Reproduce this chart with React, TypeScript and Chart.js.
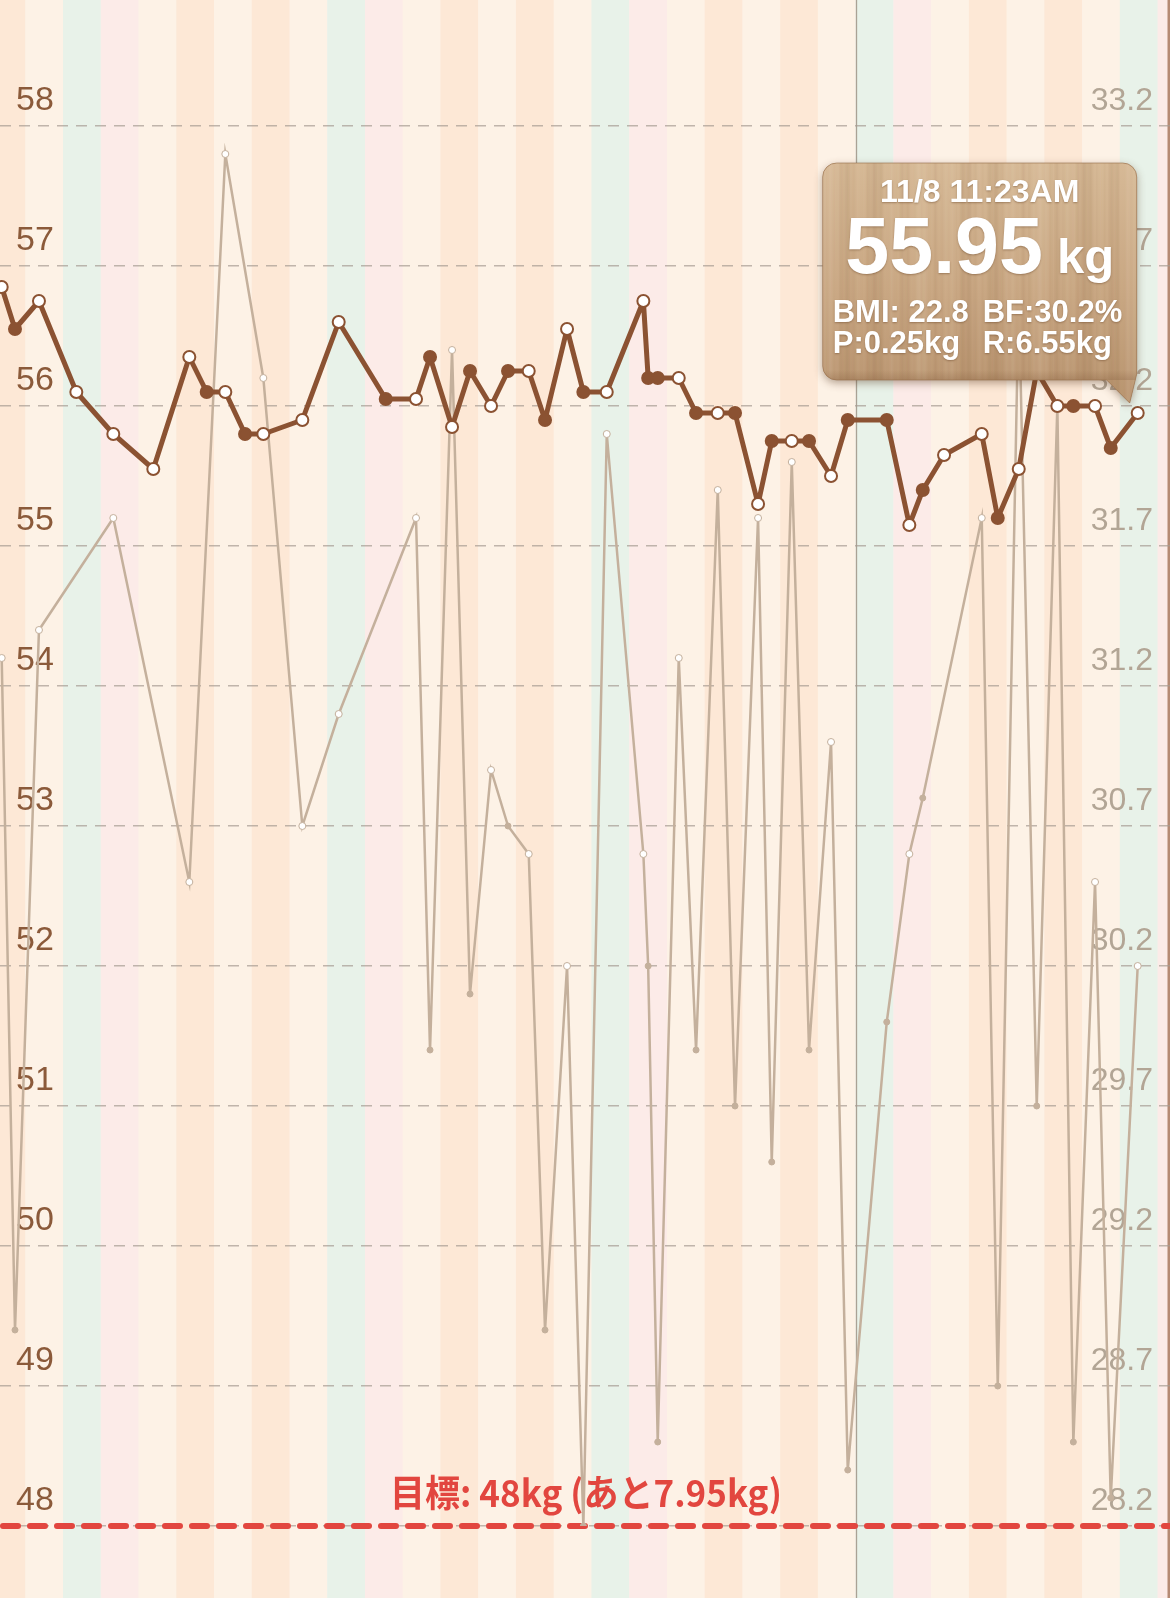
import React, { useEffect, useRef } from "react";
import { Chart, registerables } from "chart.js";

Chart.register(...registerables);

// ---------- data ----------
const YEAR = 2014;

const times = [
  "10/9 09:00", "10/9 17:27", "10/10 08:42", "10/11 08:27", "10/12 07:58",
  "10/13 09:24", "10/14 08:18", "10/14 19:21", "10/15 07:12", "10/15 19:44",
  "10/16 07:22", "10/17 08:10", "10/18 07:18", "10/19 13:12", "10/20 08:28",
  "10/20 17:22", "10/21 07:22", "10/21 18:48", "10/22 08:10", "10/22 18:58",
  "10/23 08:08", "10/23 18:30", "10/24 08:30", "10/24 18:52", "10/25 09:45",
  "10/26 09:02", "10/26 12:05", "10/26 18:10", "10/27 07:32", "10/27 18:32",
  "10/28 08:20", "10/28 19:19", "10/29 09:58", "10/29 18:40", "10/30 07:24",
  "10/30 18:23", "10/31 08:22", "10/31 19:00", "11/1 19:48", "11/2 10:10",
  "11/2 18:42", "11/3 08:14", "11/4 08:12", "11/4 18:23", "11/5 07:44",
  "11/5 19:10", "11/6 08:17", "11/6 18:27", "11/7 08:15", "11/7 18:14",
  "11/8 11:23",
];

const weights = [
  56.85, 56.55, 56.75, 56.1, 55.8,
  55.55, 56.35, 56.1, 56.1, 55.8,
  55.8, 55.9, 56.6, 56.05, 56.05,
  56.35, 55.85, 56.25, 56.0, 56.25,
  56.25, 55.9, 56.55, 56.1, 56.1,
  56.75, 56.2, 56.2, 56.2, 55.95,
  55.95, 55.95, 55.3, 55.75, 55.75,
  55.75, 55.5, 55.9, 55.9, 55.15,
  55.4, 55.65, 55.8, 55.2, 55.55,
  56.25, 56.0, 56.0, 56.0, 55.7,
  55.95,
];

const bodyFat: (number | null)[] = [
  31.3, 28.9, 31.4, null, 31.8,
  null, 30.5, null, 33.1, null,
  32.3, 30.7, 31.1, null, 31.8,
  29.9, 32.4, 30.1, 30.9, 30.7,
  30.6, 28.9, 30.2, 28.2, 32.1,
  30.6, 30.2, 28.5, 31.3, 29.9,
  31.9, 29.7, 31.8, 29.5, 32.0,
  29.9, 31.0, 28.4, 30.0, 30.6,
  30.8, null, 31.8, 28.7, 32.6,
  29.7, 32.2, 28.5, 30.5, 28.3,
  30.2,
];

const weightTicks = [48, 49, 50, 51, 52, 53, 54, 55, 56, 57, 58];
const fatTicks = [28.2, 28.7, 29.2, 29.7, 30.2, 30.7, 31.2, 31.7, 32.2, 32.7, 33.2];

const viewStart = "10/9 07:55";
const viewDays = 31;
const monthMarker = "11/1 00:00";
const goalWeight = 48;

const selectedIndex = 50;
const selectedBMI = 22.8;
const selectedP = 0.25;
const selectedR = 6.55;

// ---------- styles ----------
const BROWN = "#8b5232";
const TAN = "#c4b09c";
const RED = "#e2463f";
const STRIPE_SAT = "#e8f2e9";
const STRIPE_SUN = "#fcebe8";
const STRIPE_CREAM = "#fdf2e6";
const STRIPE_PEACH = "#fde8d6";
const FONT = '"Liberation Sans", Arial, sans-serif';

const DAY_MS = 86400000;
const ORIGIN = Date.UTC(YEAR, 9, 1);

function parseTime(s: string) {
  const [md, hm] = s.split(" ");
  const [m, d] = md.split("/").map(Number);
  const [h, mi] = hm.split(":").map(Number);
  return { m, d, h, mi };
}
function toDays(s: string): number {
  const { m, d, h, mi } = parseTime(s);
  return (Date.UTC(YEAR, m - 1, d, h, mi) - ORIGIN) / DAY_MS;
}
function formatTip(s: string): string {
  const { m, d, h, mi } = parseTime(s);
  const h12 = h % 12 === 0 ? 12 : h % 12;
  return `${m}/${d} ${h12}:${String(mi).padStart(2, "0")}${h < 12 ? "AM" : "PM"}`;
}

const isMorning = times.map((t) => parseTime(t).h < 12);
const xMin = toDays(viewStart);
const xMax = xMin + viewDays;

const backgroundPlugin = {
  id: "dayStripes",
  beforeDraw(chart: any) {
    const { ctx, width, height } = chart;
    const xs = chart.scales.x;
    ctx.save();
    for (let d = Math.floor(xMin); d < Math.ceil(xMax); d++) {
      const x0 = xs.getPixelForValue(d);
      const x1 = xs.getPixelForValue(d + 1);
      const wd = new Date(ORIGIN + d * DAY_MS).getUTCDay();
      ctx.fillStyle =
        wd === 6 ? STRIPE_SAT : wd === 0 ? STRIPE_SUN : wd % 2 === 0 ? STRIPE_PEACH : STRIPE_CREAM;
      ctx.fillRect(x0, 0, x1 - x0 + 0.5, height);
    }
    const mx = Math.round(xs.getPixelForValue(toDays(monthMarker))) + 0.5;
    ctx.strokeStyle = "rgba(150,135,120,0.75)";
    ctx.lineWidth = 1.3;
    ctx.beginPath();
    ctx.moveTo(mx, 0);
    ctx.lineTo(mx, height);
    ctx.stroke();
    ctx.fillStyle = "#b58a74";
    ctx.fillRect(width - 2.5, 0, 2.5, height);
    ctx.restore();
  },
};

const goalPlugin = {
  id: "goalLine",
  beforeDatasetsDraw(chart: any) {
    const { ctx, chartArea } = chart;
    const y = chart.scales.y.getPixelForValue(goalWeight);
    ctx.save();
    ctx.strokeStyle = RED;
    ctx.lineWidth = 6;
    ctx.lineCap = "round";
    ctx.setLineDash([15, 12]);
    ctx.beginPath();
    ctx.moveTo(chartArea.left + 3, y);
    ctx.lineTo(chartArea.right, y);
    ctx.stroke();
    ctx.setLineDash([]);
    const latest = weights[selectedIndex];
    const label = `目標: ${goalWeight}kg (あと${(latest - goalWeight).toFixed(2)}kg)`;
    ctx.font = 'bold 37px "Noto Sans CJK JP"';
    ctx.fillStyle = RED;
    ctx.textBaseline = "alphabetic";
    const w = ctx.measureText(label).width;
    const target = 392;
    const cx = 586;
    ctx.translate(cx, y - 19);
    ctx.scale(target / w, 1);
    ctx.textAlign = "center";
    ctx.fillText(label, 0, 0);
    ctx.restore();
  },
};

const calloutPlugin = {
  id: "woodCallout",
  afterDraw(chart: any) {
    const pt = chart.getDatasetMeta(0).data[selectedIndex];
    if (!pt) return;
    const { ctx } = chart;
    const px = pt.x;
    const py = pt.y;
    const right = px - 1;
    const bottom = py - 33;
    const w = 314;
    const h = 217;
    const left = right - w;
    const top = bottom - h;
    const r = 14;
    const tipX = px - 8;
    const tipY = py - 10;

    const path = new Path2D();
    path.moveTo(left + r, top);
    path.lineTo(right - r, top);
    path.arcTo(right, top, right, top + r, r);
    path.lineTo(right, bottom - 6);
    path.lineTo(tipX, tipY);
    path.lineTo(right - 30, bottom);
    path.lineTo(left + r, bottom);
    path.arcTo(left, bottom, left, bottom - r, r);
    path.lineTo(left, top + r);
    path.arcTo(left, top, left + r, top, r);
    path.closePath();

    ctx.save();
    ctx.shadowColor = "rgba(90,60,35,0.45)";
    ctx.shadowBlur = 8;
    ctx.shadowOffsetY = 3;
    ctx.fillStyle = "#c4a17d";
    ctx.fill(path);
    ctx.restore();

    ctx.save();
    ctx.clip(path);
    const g = ctx.createLinearGradient(0, top, 0, tipY);
    g.addColorStop(0, "#d6b996");
    g.addColorStop(0.55, "#c8a682");
    g.addColorStop(1, "#b8946f");
    ctx.fillStyle = g;
    ctx.fillRect(left, top, w + 2, tipY - top + 2);
    for (let i = 0; i < w; i++) {
      const n =
        Math.sin(i * 0.21) * 0.5 + Math.sin(i * 0.057 + 2) * 0.35 + Math.sin(i * 0.93 + 1) * 0.25;
      ctx.fillStyle = n > 0 ? `rgba(255,240,220,${n * 0.12})` : `rgba(120,80,45,${-n * 0.12})`;
      ctx.fillRect(left + i, top, 1, tipY - top + 2);
    }
    const rim = ctx.createLinearGradient(0, bottom - 10, 0, bottom);
    rim.addColorStop(0, "rgba(120,80,50,0)");
    rim.addColorStop(1, "rgba(120,80,50,0.25)");
    ctx.fillStyle = rim;
    ctx.fillRect(left, bottom - 10, w, 10);
    ctx.restore();

    ctx.save();
    ctx.strokeStyle = "rgba(150,110,75,0.6)";
    ctx.lineWidth = 1;
    ctx.stroke(path);
    ctx.restore();

    // text
    ctx.save();
    ctx.fillStyle = "#ffffff";
    ctx.shadowColor = "rgba(100,65,35,0.45)";
    ctx.shadowBlur = 2;
    ctx.shadowOffsetY = 1;
    ctx.textBaseline = "alphabetic";
    const cx = left + w / 2;

    ctx.textAlign = "center";
    ctx.font = `bold 32px ${FONT}`;
    ctx.fillText(formatTip(times[selectedIndex]), cx, top + 39);

    const big = weights[selectedIndex].toFixed(2);
    ctx.font = `bold 79px ${FONT}`;
    const bw = ctx.measureText(big).width;
    ctx.font = `bold 49px ${FONT}`;
    const kw = ctx.measureText("kg").width;
    const gap = 14;
    const gx = cx - (bw + gap + kw) / 2;
    ctx.textAlign = "left";
    ctx.font = `bold 79px ${FONT}`;
    ctx.fillText(big, gx, top + 110);
    ctx.font = `bold 49px ${FONT}`;
    ctx.fillText("kg", gx + bw + gap, top + 110);

    ctx.font = `bold 31px ${FONT}`;
    const bf = bodyFat[selectedIndex];
    ctx.fillText(`BMI: ${selectedBMI.toFixed(1)}`, left + 10, top + 159);
    ctx.fillText(`BF:${bf == null ? "-" : bf.toFixed(1)}%`, left + 160, top + 159);
    ctx.fillText(`P:${selectedP.toFixed(2)}kg`, left + 10, top + 190);
    ctx.fillText(`R:${selectedR.toFixed(2)}kg`, left + 160, top + 190);
    ctx.restore();
  },
};

export default function App() {
  const canvasRef = useRef<HTMLCanvasElement | null>(null);

  useEffect(() => {
    document.body.style.margin = "0";
    document.body.style.overflow = "hidden";
    const canvas = canvasRef.current;
    if (!canvas) return;

    const weightData = times.map((t, i) => ({ x: toDays(t), y: weights[i] }));
    const fatData = times.map((t, i) => ({ x: toDays(t), y: bodyFat[i] }));

    const chart = new Chart(canvas, {
      type: "line",
      data: {
        datasets: [
          {
            label: "体重",
            data: weightData,
            yAxisID: "y",
            borderColor: BROWN,
            borderWidth: 5,
            borderJoinStyle: "round",
            pointRadius: 6,
            pointBorderWidth: 2,
            pointBorderColor: BROWN,
            pointBackgroundColor: isMorning.map((m) => (m ? "#ffffff" : BROWN)),
            tension: 0,
          } as any,
          {
            label: "体脂肪率",
            data: fatData,
            yAxisID: "y1",
            borderColor: TAN,
            borderWidth: 2.5,
            pointRadius: isMorning.map((m) => (m ? 3.5 : 3)),
            pointBorderWidth: 1,
            pointBorderColor: TAN,
            pointBackgroundColor: isMorning.map((m) => (m ? "#ffffff" : TAN)),
            spanGaps: true,
            tension: 0,
          } as any,
        ],
      },
      options: {
        animation: false,
        responsive: false,
        events: [],
        layout: { autoPadding: false, padding: { top: 126, bottom: 72, left: 0, right: 0 } },
        plugins: {
          legend: { display: false },
          tooltip: { enabled: false },
        },
        scales: {
          x: { type: "linear", min: xMin, max: xMax, display: false },
          y: {
            position: "left",
            min: weightTicks[0],
            max: weightTicks[weightTicks.length - 1],
            afterBuildTicks: (s: any) => {
              s.ticks = weightTicks.map((v) => ({ value: v }));
            },
            afterFit: (s: any) => {
              s.width = 0;
            },
            grid: { color: "rgba(165,155,145,0.7)", lineWidth: 1.6, drawTicks: false },
            border: { display: false, dash: [11, 8] },
            ticks: {
              mirror: true,
              padding: 16,
              labelOffset: -25,
              color: "#8b5a3a",
              font: { family: FONT, size: 34 },
              callback: (v: any) => String(v),
            },
          },
          y1: {
            position: "right",
            min: fatTicks[0],
            max: fatTicks[fatTicks.length - 1],
            afterBuildTicks: (s: any) => {
              s.ticks = fatTicks.map((v) => ({ value: v }));
            },
            afterFit: (s: any) => {
              s.width = 0;
            },
            grid: { display: false, drawTicks: false },
            border: { display: false },
            ticks: {
              mirror: true,
              padding: -17,
              labelOffset: -25,
              color: "#b2a595",
              font: { family: FONT, size: 32 },
              callback: (v: any) => Number(v).toFixed(1),
            },
          },
        } as any,
      },
      plugins: [backgroundPlugin, goalPlugin, calloutPlugin],
    });

    return () => {
      chart.destroy();
    };
  }, []);

  return (
    <div style={{ width: 1170, height: 1598, overflow: "hidden" }}>
      <canvas ref={canvasRef} width={1170} height={1598} style={{ display: "block" }} />
    </div>
  );
}
